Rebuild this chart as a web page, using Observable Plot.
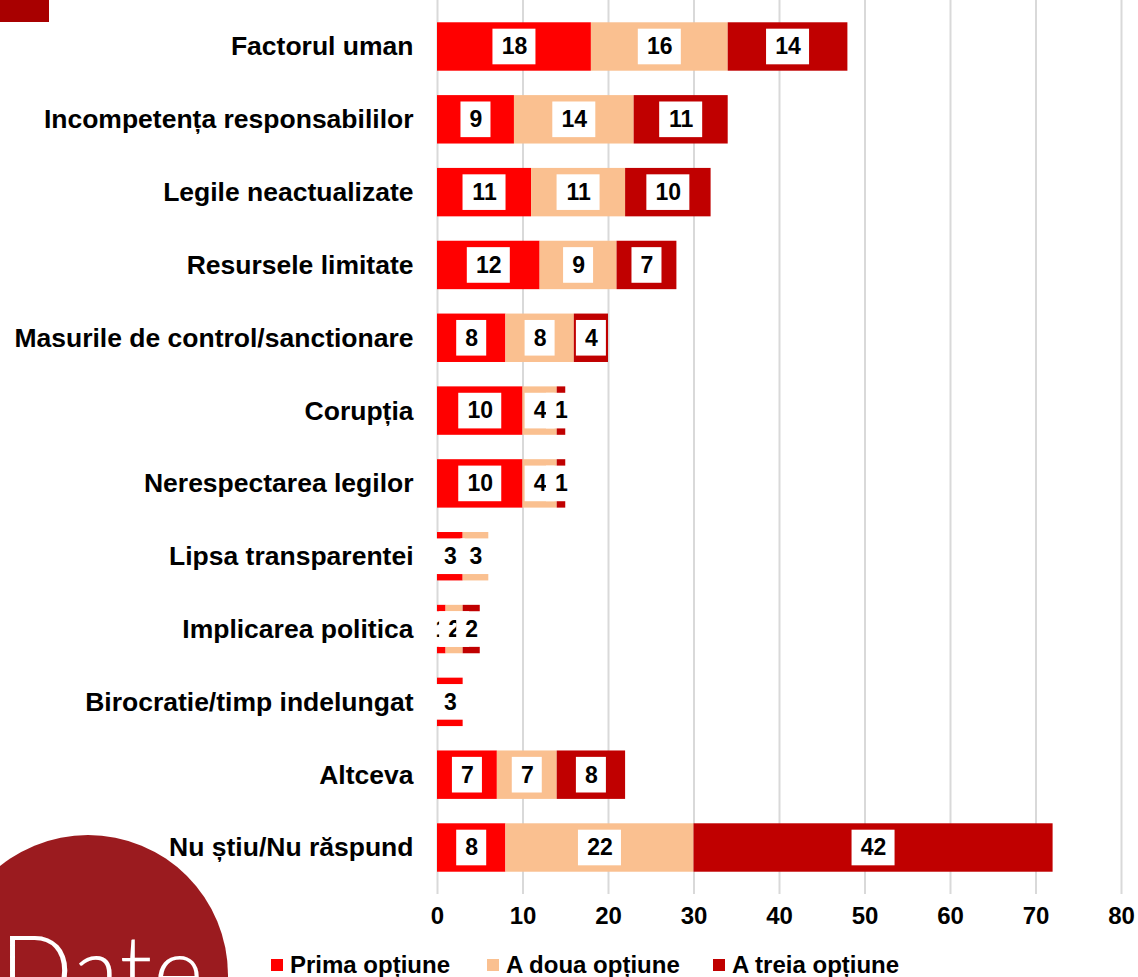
<!DOCTYPE html>
<html>
<head>
<meta charset="utf-8">
<script src="https://cdn.jsdelivr.net/npm/d3@7"></script>
<script src="https://cdn.jsdelivr.net/npm/@observablehq/plot@0.6"></script>
<style>
  html, body { margin: 0; padding: 0; background: #fff; }
  #wrap { position: relative; width: 1138px; height: 977px; overflow: hidden; font-family: "Liberation Sans", Arial, sans-serif; }
  #chart { position: absolute; left: 0; top: 0; }
  .corner { position: absolute; left: 0; top: 0; width: 49px; height: 22px; background: #a80000; }
  .logo { position: absolute; left: -52px; top: 835px; width: 280px; height: 280px; border-radius: 50%; background: #9b1b1f; }
  .logotext { position: absolute; left: 0px; top: 920px; font-family: Lato, "Open Sans", sans-serif; font-weight: 300; font-size: 96px; color: #fff; line-height: 1; letter-spacing: 1px; }
  .legend { position: absolute; top: 950px; left: 0; height: 30px; font-size: 24px; font-weight: bold; color: #000; }
  .legend .item { position: absolute; top: 0; white-space: nowrap; line-height: 30px; }
  .legend .sw { position: absolute; top: 9px; width: 12px; height: 12px; }
</style>
</head>
<body>
<div id="wrap">
  <div id="chart"></div>
  <div class="corner"></div>
  <div class="logo"></div>
  <div class="logotext">Date</div>
  <div class="legend" id="legend"></div>
</div>
<script>
const categories = [
  "Factorul uman",
  "Incompetența responsabililor",
  "Legile neactualizate",
  "Resursele limitate",
  "Masurile de control/sanctionare",
  "Corupția",
  "Nerespectarea legilor",
  "Lipsa transparentei",
  "Implicarea politica",
  "Birocratie/timp indelungat",
  "Altceva",
  "Nu știu/Nu răspund"
];
const seriesNames = ["Prima opțiune", "A doua opțiune", "A treia opțiune"];
const prima  = [18, 9, 11, 12, 8, 10, 10, 3, 1, 3, 7, 8];
const adoua  = [16, 14, 11, 9, 8, 4, 4, 3, 2, 0, 7, 22];
const atreia = [14, 11, 10, 7, 4, 1, 1, 0, 2, 0, 8, 42];
const colors = ["#ff0000", "#fac090", "#c00000"];
const xTicks = [0, 10, 20, 30, 40, 50, 60, 70, 80];

const seriesValues = [prima, adoua, atreia];
const data = [];
categories.forEach((c, i) => {
  let s = 0;
  seriesNames.forEach((name, k) => {
    const v = seriesValues[k][i];
    data.push({cat: c, series: name, value: v, start: s, end: s + v, mid: s + v / 2});
    s += v;
  });
});

const labelMarks = [];
seriesNames.forEach(name => {
  [1, 2].forEach(digits => {
    const w = digits === 1 ? 30 : 43;
    labelMarks.push(Plot.barX(
      data.filter(d => d.series === name && d.value > 0 && String(d.value).length === digits),
      {x1: "mid", x2: "mid", y: "cat", fill: "white",
       insetLeft: -w / 2, insetRight: -w / 2, insetTop: 6.4, insetBottom: 6.4}
    ));
  });
  labelMarks.push(Plot.text(
    data.filter(d => d.series === name && d.value > 0),
    {x: "mid", y: "cat", text: d => String(d.value), fill: "#000",
     fontSize: 23, fontWeight: "bold"}
  ));
});

const chart = Plot.plot({
  width: 1138,
  height: 935,
  marginLeft: 437,
  marginRight: 17,
  marginTop: 0,
  marginBottom: 41,
  style: {fontFamily: "'Liberation Sans', Arial, sans-serif", color: "#000", background: "transparent"},
  x: {domain: [0, 80]},
  y: {domain: categories, paddingInner: 0.335, paddingOuter: 0.306, round: false},
  color: {domain: seriesNames, range: colors},
  marks: [
    Plot.gridX(xTicks, {stroke: "#d9d9d9", strokeOpacity: 1, strokeWidth: 2}),
    Plot.barX(data, {x1: "start", x2: "end", y: "cat", fill: "series"}),
    ...labelMarks,
    Plot.axisX({ticks: xTicks, tickSize: 0, tickPadding: 12, fontSize: 24, fontWeight: "bold", label: null}),
    Plot.axisY({tickSize: 0, tickPadding: 24, fontSize: 26.5, fontWeight: "bold", label: null})
  ]
});
document.getElementById("chart").append(chart);

const legend = document.getElementById("legend");
const legendPos = [271, 487, 713];
seriesNames.forEach((name, k) => {
  const sw = document.createElement("div");
  sw.className = "sw";
  sw.style.left = legendPos[k] + "px";
  sw.style.background = colors[k];
  legend.append(sw);
  const it = document.createElement("div");
  it.className = "item";
  it.style.left = (legendPos[k] + 19) + "px";
  it.textContent = name;
  legend.append(it);
});
</script>
</body>
</html>
